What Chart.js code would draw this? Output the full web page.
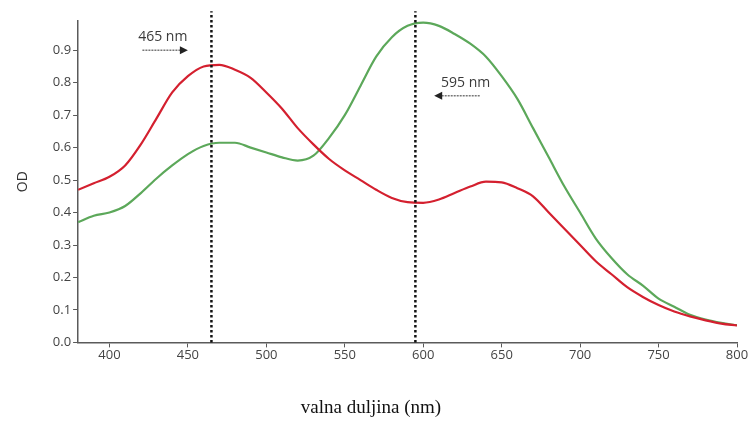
<!DOCTYPE html>
<html>
<head>
<meta charset="utf-8">
<script src="https://cdn.jsdelivr.net/npm/chart.js@4.4.1/dist/chart.umd.min.js"></script>
<style>
  html, body { margin: 0; padding: 0; background: #fff; }
  #wrap { width: 755px; height: 423px; position: relative; }
</style>
</head>
<body>
<div id="wrap"><canvas id="odChart"></canvas></div>
<script>
const wavelengths = [380, 390, 400, 410, 420, 430, 440, 450, 460, 470, 480, 490, 500, 510, 520, 530, 540, 550, 560, 570, 580, 590, 600,
    610, 620, 630, 640, 650, 660, 670, 680, 690, 700, 710, 720, 730, 740, 750, 760, 770, 780, 790, 800];

const redOD = [0.47, 0.49, 0.51, 0.545, 0.61, 0.69, 0.77, 0.82, 0.85, 0.855, 0.84, 0.815, 0.77, 0.72, 0.66, 0.61, 0.565, 0.53, 0.50, 0.47, 0.445, 0.432, 0.43,
    0.44, 0.46, 0.48, 0.495, 0.493, 0.475, 0.45, 0.40, 0.35, 0.30, 0.25, 0.21, 0.17, 0.14, 0.115, 0.095, 0.08, 0.068, 0.058, 0.052];

const greenOD = [0.37, 0.39, 0.40, 0.42, 0.46, 0.505, 0.545, 0.58, 0.605, 0.615, 0.615, 0.60, 0.585, 0.57, 0.56, 0.575, 0.63, 0.70, 0.79, 0.88, 0.94, 0.975, 0.985,
    0.975, 0.95, 0.92, 0.88, 0.82, 0.75, 0.66, 0.57, 0.48, 0.40, 0.32, 0.26, 0.21, 0.175, 0.135, 0.11, 0.085, 0.07, 0.06, 0.053];

const peakMarks = [465, 595];
const peakLabels = ['465 nm', '595 nm'];
// label anchor (nm, OD) and arrow from -> to (nm) at OD level
const labelPos = [[434, 0.94], [627, 0.80]];
const arrowPos = [[421, 450, 0.90], [636, 607, 0.76]];

const xTitle = 'valna duljina (nm)';
const yTitle = 'OD';

function toXY(xs, ys) {
    return xs.map((x, i) => ({ x: x, y: ys[i] }));
}

const axisGrey = '#5a5a5a';
const tickFont = { family: 'Open Sans', size: 13 };

const annotations = {
    id: 'annotations',
    afterDatasetsDraw(chart) {
        const ctx = chart.ctx;
        const xs = chart.scales.x;
        const ys = chart.scales.y;
        ctx.save();
        ctx.fillStyle = '#3a3a3a';
        ctx.font = '14px "Open Sans"';
        ctx.textAlign = 'center';
        ctx.textBaseline = 'middle';
        labelPos.forEach((p, i) => {
            ctx.fillText(peakLabels[i], xs.getPixelForValue(p[0]), ys.getPixelForValue(p[1]));
        });
        arrowPos.forEach(a => {
            const x1 = xs.getPixelForValue(a[0]);
            const x2 = xs.getPixelForValue(a[1]);
            const y = ys.getPixelForValue(a[2]);
            const dir = Math.sign(x2 - x1);
            ctx.strokeStyle = '#777';
            ctx.lineWidth = 1.5;
            ctx.setLineDash([2, 1]);
            ctx.beginPath();
            ctx.moveTo(x1, y);
            ctx.lineTo(x2 - dir * 6, y);
            ctx.stroke();
            ctx.setLineDash([]);
            ctx.fillStyle = '#222';
            ctx.beginPath();
            ctx.moveTo(x2, y);
            ctx.lineTo(x2 - dir * 8, y - 4);
            ctx.lineTo(x2 - dir * 8, y + 4);
            ctx.closePath();
            ctx.fill();
        });
        // x-axis title sits left of the axis centre in the original
        ctx.fillStyle = '#111';
        ctx.font = '19px "Liberation Serif"';
        ctx.fillText(xTitle, 371, 408);
        ctx.restore();
    }
};

const datasets = [
    {
        data: toXY(wavelengths, redOD),
        borderColor: '#d4202f',
        borderWidth: 2.2,
        pointRadius: 0,
        cubicInterpolationMode: 'monotone',
        fill: false
    },
    {
        data: toXY(wavelengths, greenOD),
        borderColor: '#5ca85a',
        borderWidth: 2.2,
        pointRadius: 0,
        cubicInterpolationMode: 'monotone',
        fill: false
    }
];

peakMarks.forEach(nm => {
    datasets.push({
        data: [{ x: nm, y: 0 }, { x: nm, y: 1.02 }],
        borderColor: '#111',
        borderWidth: 2.5,
        borderDash: [2.5, 2.5],
        pointRadius: 0,
        clip: false,
        order: -1
    });
});

new Chart(document.getElementById('odChart').getContext('2d'), {
    type: 'line',
    data: { datasets: datasets },
    plugins: [annotations],
    options: {
        responsive: true,
        maintainAspectRatio: false,
        animation: false,
        layout: { padding: { top: 21, right: 18, left: 11, bottom: 60 } },
        plugins: {
            legend: { display: false },
            tooltip: { enabled: false }
        },
        scales: {
            x: {
                type: 'linear',
                min: 380,
                max: 800,
                border: { color: axisGrey, width: 1.5 },
                grid: { drawOnChartArea: false, tickLength: 5, color: axisGrey },
                ticks: { stepSize: 50, includeBounds: false, color: '#444', font: tickFont, padding: 0 }
            },
            y: {
                min: 0,
                max: 0.99,
                border: { color: axisGrey, width: 1.5 },
                grid: { drawOnChartArea: false, tickLength: 5, color: axisGrey },
                ticks: {
                    stepSize: 0.1,
                    includeBounds: false,
                    color: '#444',
                    font: tickFont,
                    padding: 2,
                    callback: v => v.toFixed(1)
                },
                title: {
                    display: true,
                    text: yTitle,
                    color: '#333',
                    font: { family: 'Open Sans', size: 14 },
                    padding: { bottom: 19 }
                }
            }
        }
    }
});
</script>
</body>
</html>
